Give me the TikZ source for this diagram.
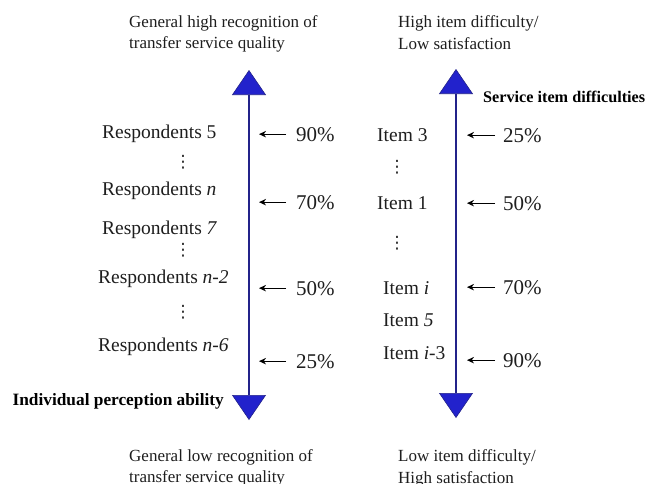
\documentclass[tikz,border=0pt]{standalone}
\usepackage{fontspec}
\setmainfont{Liberation Serif}
\newfontfamily\dvsans{DejaVu Sans}
\usetikzlibrary{arrows.meta}
\definecolor{axisline}{HTML}{23238A}
\definecolor{axisfill}{HTML}{2222CC}
\definecolor{txt}{HTML}{1E1E1E}
\tikzset{
  lbl/.style={font=\fontsize{19.5}{23}\selectfont, text=txt, inner sep=0pt, anchor=base west},
  pct/.style={font=\fontsize{21}{24}\selectfont, text=txt, inner sep=0pt, anchor=base west},
  capt/.style={font=\fontsize{17}{21.5}\selectfont, text=txt, inner sep=0pt, anchor=base west, align=left},
  boldlbl/.style={text=black, inner sep=0pt},
  vd/.style={font=\dvsans\fontsize{17}{17}\selectfont, text=txt, inner sep=0pt},
  axisarrow/.style={line width=2.5pt, draw=axisline,
    {Triangle[width=34pt,length=25pt,fill=axisfill,line width=0.6pt]}-{Triangle[width=34pt,length=25pt,fill=axisfill,line width=0.6pt]}},
  pointer/.style={-{Stealth[length=7pt,width=6.5pt]}, line width=1.1pt, black},
}
\begin{document}
\begin{tikzpicture}[x=1pt,y=-1pt]
\useasboundingbox (0,0) rectangle (646,483);
% axes
\coordinate (ltop) at (249,70);
\coordinate (lbot) at (249,420);
\coordinate (rtop) at (456,69);
\coordinate (rbot) at (456,418);
\draw[axisarrow] (lbot) -- (ltop);
\draw[axisarrow] (rbot) -- (rtop);
% captions (base = last line)
\node[capt] (tl) at (129,48.5) {General high recognition of\\transfer service quality};
\node[capt] (bl) at (129,482.5) {General low recognition of\\transfer service quality};
\node[capt] (tr) at (398,49) {High item difficulty/\\Low satisfaction};
\node[capt] (br) at (398,483) {Low item difficulty/\\High satisfaction};
% bold labels
\node[boldlbl, font=\fontsize{17.3}{20}\selectfont\bfseries, anchor=base east] (ipa) at (224,405.5) {Individual perception ability};
\node[boldlbl, font=\fontsize{16.2}{20}\selectfont\bfseries, anchor=base west] (sid) at (483,102.5) {Service item difficulties};
% left labels
\node[lbl] (r5) at (102,138) {Respondents 5};
\node[vd] (d1) at (183,162) {⋮};
\node[lbl] (rn) at (102,195.5) {Respondents \textit{n}};
\node[lbl] (r7) at (102,234.5) {Respondents \textit{7}};
\node[vd] (d2) at (183,250) {⋮};
\node[lbl] (rn2) at (98,283.5) {Respondents \textit{n-2}};
\node[vd] (d3) at (183,312) {⋮};
\node[lbl] (rn6) at (98,351.5) {Respondents \textit{n-6}};
% left percentages
\node[pct] (lp1) at (296,141) {90\%};
\node[pct] (lp2) at (296,209) {70\%};
\node[pct] (lp3) at (296,295) {50\%};
\node[pct] (lp4) at (296,368) {25\%};
\foreach \p in {lp1,lp2,lp3,lp4}
  \draw[pointer] ([xshift=-10pt]\p.west) -- ++(-27,0);
% right labels
\node[lbl] (i3) at (377,141.5) {Item 3};
\node[vd] (d4) at (397,167) {⋮};
\node[lbl] (i1) at (377,209.5) {Item 1};
\node[vd] (d5) at (397,243) {⋮};
\node[lbl] (ii) at (383,294.5) {Item \textit{i}};
\node[lbl] (i5) at (383,326.5) {Item \textit{5}};
\node[lbl] (ii3) at (383,359.5) {Item \textit{i}-3};
% right percentages
\node[pct] (rp1) at (503,142) {25\%};
\node[pct] (rp2) at (503,210) {50\%};
\node[pct] (rp3) at (503,294) {70\%};
\node[pct] (rp4) at (503,367) {90\%};
\foreach \p in {rp1,rp2,rp3,rp4}
  \draw[pointer] ([xshift=-8pt]\p.west) -- ++(-28,0);
\end{tikzpicture}
\end{document}
